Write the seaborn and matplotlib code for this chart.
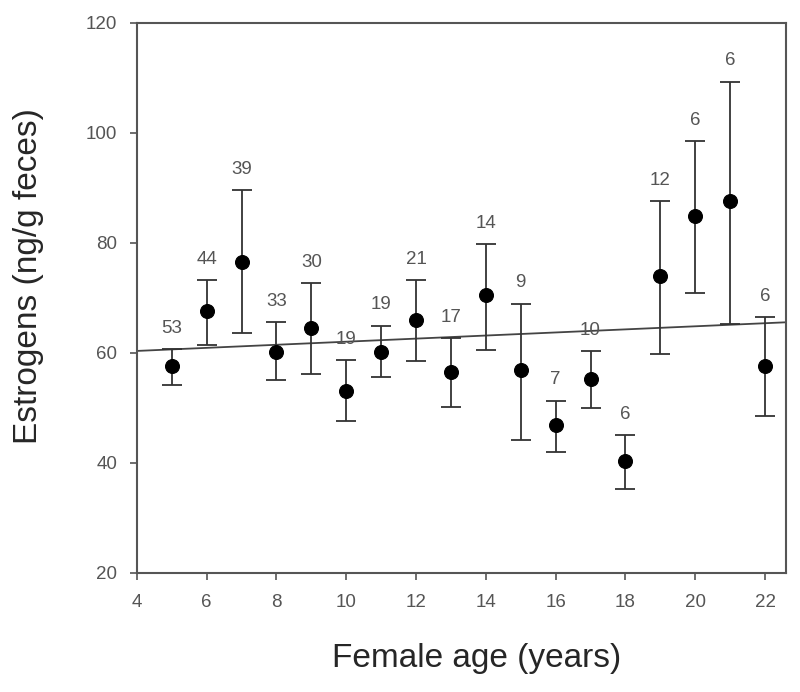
import matplotlib
matplotlib.use("Agg")
import matplotlib.pyplot as plt
import seaborn as sns
import numpy as np
import pandas as pd

# values
ages = [5, 6, 7, 8, 9, 10, 11, 12, 13, 14, 15, 16, 17, 18, 19, 20, 21, 22]
means = [57.6, 67.6, 76.5, 60.2, 64.4, 53.1, 60.2, 65.9, 56.5, 70.5,
         56.9, 46.9, 55.3, 40.3, 73.9, 84.9, 87.5, 57.6]
upper = [60.7, 73.2, 89.6, 65.5, 72.6, 58.7, 64.9, 73.2, 62.7, 79.7,
         68.9, 51.3, 60.3, 45.0, 87.6, 98.4, 109.3, 66.4]
lower = [54.2, 61.4, 63.5, 55.1, 56.1, 47.6, 55.5, 58.5, 50.2, 60.4,
         44.1, 41.9, 49.9, 35.2, 59.8, 70.9, 65.3, 48.5]
n_labels = ["53", "44", "39", "33", "30", "19", "19", "21", "17", "14",
            "9", "7", "10", "6", "12", "6", "6", "6"]

# fitted line
fit_intercept = 59.2
fit_slope = 0.28
x_range = [4, 22.6]

df = pd.DataFrame({"age": ages, "mean": means, "upper": upper, "lower": lower})

sns.set_style("white")
plt.rcParams["font.family"] = ["Liberation Sans", "DejaVu Sans"]

fig = plt.figure(figsize=(8, 6.92), dpi=100)
ax = fig.add_axes([0.171, 0.1724, 0.8115, 0.7948])

line_df = pd.DataFrame({"x": x_range,
                        "y": [fit_intercept + fit_slope * v for v in x_range]})
sns.lineplot(data=line_df, x="x", y="y", ax=ax, color="#444444", lw=1.3)

yerr = np.array([df["mean"] - df["lower"], df["upper"] - df["mean"]])
ax.errorbar(df["age"], df["mean"], yerr=yerr, fmt="none", ecolor="#333333",
            elinewidth=1.3, capsize=7, capthick=1.3)
sns.scatterplot(data=df, x="age", y="mean", ax=ax, color="black", s=100,
                edgecolor="black", zorder=5)

for a, u, lab in zip(ages, upper, n_labels):
    ax.annotate(lab, (a, u), xytext=(0, 15), textcoords="offset points",
                ha="center", va="center", fontsize=13.5, color="#555555")

ax.set_xlim(4, 22.6)
ax.set_ylim(20, 120)
ax.set_xticks(range(4, 23, 2))
ax.set_yticks(range(20, 121, 20))
ax.tick_params(axis="both", direction="out", length=5, width=1.2,
               colors="#555555", labelsize=13.5, bottom=True, left=True)
ax.tick_params(axis="x", pad=10)
ax.tick_params(axis="y", pad=9)
for sp in ax.spines.values():
    sp.set_color("#555555")
    sp.set_linewidth(1.5)

ax.set_xlabel("Female age (years)", fontsize=24)
ax.set_ylabel("Estrogens (ng/g feces)", fontsize=24)
ax.xaxis.set_label_coords(0.524, -0.128)
ax.yaxis.set_label_coords(-0.143, 0.54)

fig.savefig("out.png", dpi=100)
